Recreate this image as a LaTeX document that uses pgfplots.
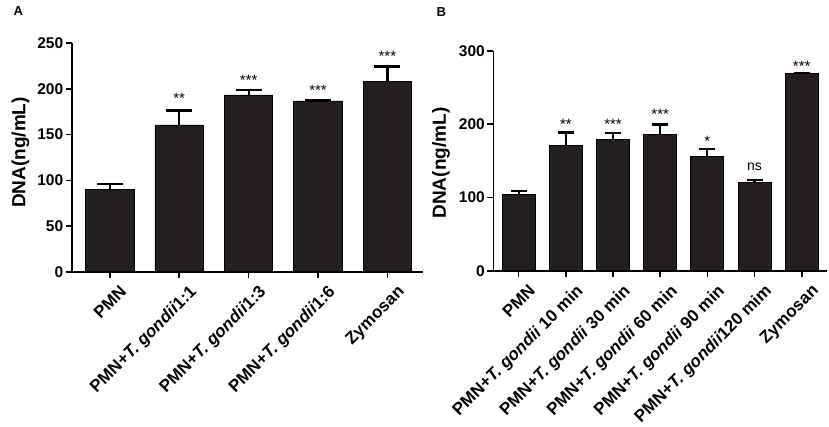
\documentclass[border=0pt]{standalone}
\usepackage{fontspec}
\setmainfont{Liberation Sans}
\usepackage{pgfplots}
\pgfplotsset{compat=1.18}
\usepackage{pgfplotstable}
\definecolor{barfill}{RGB}{35,31,32}

\pgfplotstableread{
x y e
0 90.2 5.5
1 160.6 15.7
2 193.5 5.1
3 186.9 1.1
4 208.0 16.5
}\dataA

\pgfplotstableread{
x y e
0 104.6 4.1
1 171.4 17.3
2 179.2 9.0
3 186.4 13.2
4 155.5 10.9
5 121.0 2.7
6 269.2 0.8
}\dataB

\pgfplotsset{
  myaxis/.style={
    scale only axis,
    anchor=south west,
    axis x line=bottom,
    axis y line=left,
    axis line style={-, line width=1.6bp, black},
    tick align=outside,
    major tick length=6bp,
    every tick/.style={line width=1.6bp, black},
    ymin=0,
    clip=false,
    xtick=data,
    /pgf/number format/assume math mode=true,
    yticklabel={\pgfmathprintnumber[assume math mode=true]{\tick}},
    yticklabel style={font=\fontsize{15.5bp}{17bp}\selectfont\bfseries, xshift=1bp},
    xticklabel style={font=\fontsize{17bp}{18bp}\selectfont\bfseries, rotate=45, anchor=north east, inner sep=1bp, xshift=3bp, yshift=-10bp},
    ylabel={DNA(ng/mL)},
  },
}

\begin{document}
\begin{tikzpicture}[x=1bp,y=1bp]
\useasboundingbox (0,0) rectangle (829,426);

% Panel A
\begin{axis}[myaxis,
  at={(71.7bp,154.3bp)},
  width=351.3bp, height=228.4bp,
  xmin=-0.549, xmax=4.513,
  ymax=250, ytick={0,50,100,150,200,250},
  xticklabels={PMN, PMN+\textit{T. gondii}1:1, PMN+\textit{T. gondii}1:3, PMN+\textit{T. gondii}1:6, Zymosan},
  ylabel style={at={(axis description cs:-0.1457,0.522)}, anchor=center, font=\fontsize{19bp}{21bp}\selectfont\bfseries},
]
\addplot[ybar, bar width=0.70, fill=barfill, draw=black, line width=0.8bp,
  error bars/.cd, y dir=plus, y explicit,
  error bar style={line width=2.2bp, black},
  error mark options={rotate=90, mark size=13bp, line width=2.4bp, black}]
  table[x=x, y=y, y error=e] {\dataA};
\begin{scope}[font=\fontsize{15bp}{16bp}\selectfont]
\node[anchor=base] at (axis cs:1,184.0) {**};
\node[anchor=base] at (axis cs:2,204.0) {***};
\node[anchor=base] at (axis cs:3,192.4) {***};
\node[anchor=base] at (axis cs:4,230.3) {***};
\end{scope}
\end{axis}

% Panel B
\begin{axis}[myaxis,
  at={(493.3bp,155.3bp)},
  width=333.4bp, height=219.7bp,
  xmin=-0.538, xmax=6.53,
  ymax=300, ytick={0,100,200,300},
  xticklabels={PMN, PMN+\textit{T. gondii} 10 min, PMN+\textit{T. gondii} 30 min, PMN+\textit{T. gondii} 60 min, PMN+\textit{T. gondii} 90 min, PMN+\textit{T. gondii}120 mim, Zymosan},
  ylabel style={at={(axis description cs:-0.157,0.49)}, anchor=center, font=\fontsize{19bp}{21bp}\selectfont\bfseries},
]
\addplot[ybar, bar width=0.70, fill=barfill, draw=black, line width=0.8bp,
  error bars/.cd, y dir=plus, y explicit,
  error bar style={line width=2.2bp, black},
  error mark options={rotate=90, mark size=8bp, line width=2.4bp, black}]
  table[x=x, y=y, y error=e] {\dataB};
\begin{scope}[font=\fontsize{15bp}{16bp}\selectfont]
\node[anchor=base] at (axis cs:1,192.6) {**};
\node[anchor=base] at (axis cs:2,192.6) {***};
\node[anchor=base] at (axis cs:3,205.9) {***};
\node[anchor=base] at (axis cs:4,170.0) {*};
\node[anchor=base, font=\fontsize{14bp}{15bp}\selectfont] at (axis cs:5,136.4) {ns};
\node[anchor=base] at (axis cs:6,272.3) {***};
\end{scope}
\end{axis}

\node[anchor=base west, font=\fontsize{13bp}{14bp}\selectfont\bfseries] at (10,410) {A};
\node[anchor=base west, font=\fontsize{13bp}{14bp}\selectfont\bfseries] at (433,409.3) {B};
\end{tikzpicture}
\end{document}
